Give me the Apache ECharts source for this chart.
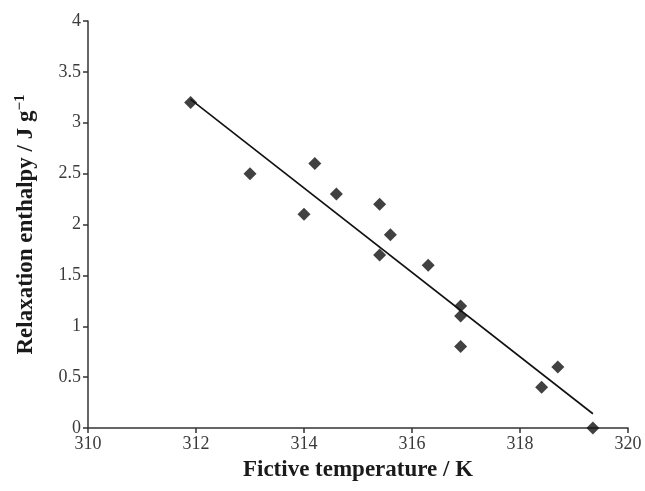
<!DOCTYPE html>
<html>
<head>
<meta charset="utf-8">
<script src="https://cdn.jsdelivr.net/npm/echarts@6/dist/echarts.min.js"></script>
<style>
html,body{margin:0;padding:0;background:#fff;}
#chart{width:645px;height:491px;}
</style>
</head>
<body>
<div id="chart"></div>
<script>
// Data
var fictiveTemp = [311.9, 313.0, 314.0, 314.2, 314.6, 315.4, 315.6, 315.4, 316.3, 316.9, 316.9, 316.9, 318.4, 318.7, 319.35];
var enthalpy    = [3.2,   2.5,   2.1,   2.6,   2.3,   2.2,   1.9,   1.7,   1.6,   1.2,   1.1,   0.8,   0.4,   0.6,   0.0];
var trendX = [311.9, 319.35];
var trendY = [3.23, 0.14];
var xTicks = [310, 312, 314, 316, 318, 320];
var yTicks = [0, 0.5, 1, 1.5, 2, 2.5, 3, 3.5, 4];

var points = fictiveTemp.map(function(x, i){ return [x, enthalpy[i]]; });
var trend = trendX.map(function(x, i){ return [x, trendY[i]]; });

var font = '"Liberation Serif", "DejaVu Serif", serif';
var axisColor = '#333';
var chart = echarts.init(document.getElementById('chart'), null, {renderer: 'canvas'});
chart.setOption({
  animation: false,
  backgroundColor: '#fff',
  grid: {left: 88, right: 17, top: 21, bottom: 63},
  xAxis: {
    type: 'value',
    min: xTicks[0], max: xTicks[xTicks.length - 1], interval: 2,
    name: 'Fictive temperature / K',
    nameLocation: 'middle', nameGap: 31,
    nameTextStyle: {fontFamily: font, fontWeight: 'bold', fontSize: 23, color: '#1a1a1a'},
    axisLine: {show: true, lineStyle: {color: axisColor, width: 1.5}},
    axisTick: {show: true, length: 5, lineStyle: {color: axisColor, width: 1.5}},
    axisLabel: {fontFamily: font, fontSize: 18, color: '#3a3a3a', margin: 7},
    splitLine: {show: false}
  },
  yAxis: {
    type: 'value',
    min: yTicks[0], max: yTicks[yTicks.length - 1], interval: 0.5,
    name: 'Relaxation enthalpy / J g{sup|\u22121}',
    nameLocation: 'middle', nameGap: 48, nameRotate: 90,
    nameTextStyle: {fontFamily: font, fontWeight: 'bold', fontSize: 23, color: '#1a1a1a',
      rich: {sup: {fontFamily: font, fontWeight: 'bold', fontSize: 15, color: '#1a1a1a', verticalAlign: 'top', padding: [0,0,12,0]}}},
    axisLine: {show: true, lineStyle: {color: axisColor, width: 1.5}},
    axisTick: {show: true, length: 5, lineStyle: {color: axisColor, width: 1.5}},
    axisLabel: {fontFamily: font, fontSize: 18, color: '#3a3a3a', margin: 7},
    splitLine: {show: false}
  },
  series: [
    {
      type: 'line', data: trend, symbol: 'none',
      lineStyle: {color: '#111', width: 1.6}, z: 2
    },
    {
      type: 'scatter', data: points, symbol: 'diamond', symbolSize: 13,
      itemStyle: {color: '#111'}, z: 3
    }
  ]
});
</script>
</body>
</html>
